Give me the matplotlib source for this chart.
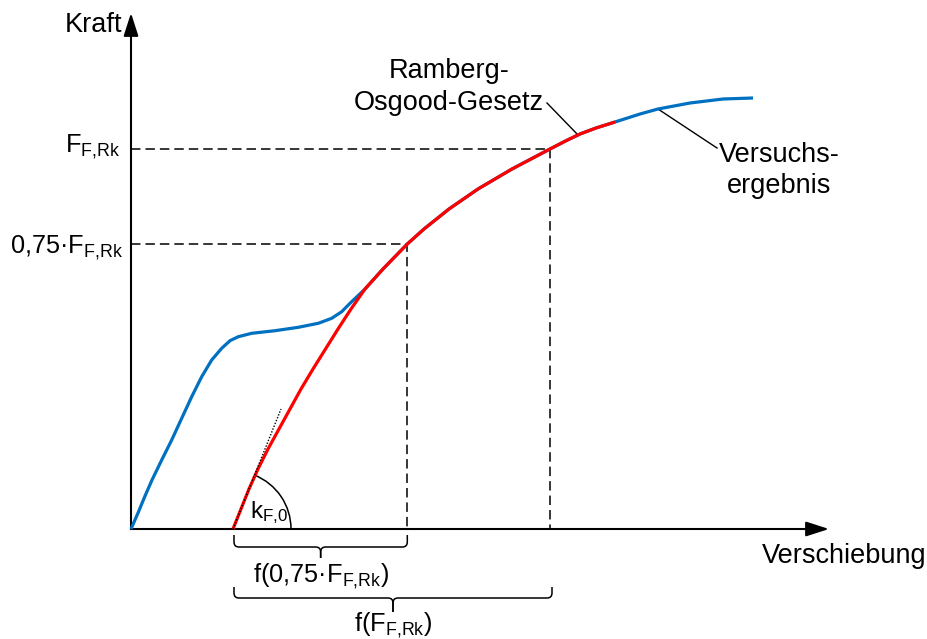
import numpy as np
import matplotlib
matplotlib.use('Agg')
import matplotlib.pyplot as plt
from matplotlib.patches import Arc, PathPatch
from matplotlib.path import Path

plt.rcParams['font.family'] = ['Liberation Sans', 'DejaVu Sans']
plt.rcParams['mathtext.fontset'] = 'custom'
plt.rcParams['mathtext.rm'] = 'Liberation Sans'
plt.rcParams['mathtext.default'] = 'regular'
plt.rcParams['lines.scale_dashes'] = False

# test curve (displacement, force) in drawing units
test_disp = [0, 7, 14, 21, 30.7, 40.7, 50.7, 60.7, 70.7, 80.7, 90.7, 99,
             107.3, 120.7, 144, 167.3, 187.3, 200.7, 210.7, 219,
             234, 252, 276.3, 293, 318, 347, 381, 419, 434.5, 449, 465, 484,
             509, 527, 559, 592, 622]
test_force = [0, 16, 33, 49, 69, 89, 110.7, 132.3, 152.3, 169, 180.7, 188.3,
              192.3, 195.7, 198.3, 201.7, 205.7, 210.7, 217.3, 225.7,
              240, 260, 285, 300, 320, 340, 360, 380, 388, 395, 401, 407,
              415, 420, 426, 430, 431]

# Ramberg-Osgood fit
ro_force = [0, 20, 40, 60, 80, 100, 120, 140, 160, 180, 200, 220, 240, 260,
            285, 300, 320, 340, 360, 380, 388, 395, 401, 407]
ro_disp = [102, 110, 118, 127, 137, 148, 159, 170, 182, 194.5, 207, 220, 234, 252,
           276.3, 293, 318, 347, 381, 419, 434.5, 449, 465, 484]

F_rk = 380
F_75 = 0.75 * F_rk
k0_slope = 2.5          # initial stiffness of the fit
brace_start = 103

BLUE = '#0070C0'
RED = '#FF0000'
FS = 19.5
FS_SUB = 18.3   # labels carrying a subscript


def brace(ax, x0, x1, y_top, y_bar, y_tip, r=5, lw=1.1):
    xm = 0.5 * (x0 + x1)
    for a, s in ((x0, 1), (x1, -1)):
        verts = [(a, y_top), (a, y_bar + r), (a, y_bar), (a + s * r, y_bar),
                 (xm - s * r, y_bar), (xm, y_bar), (xm, y_bar - r), (xm, y_tip)]
        codes = [Path.MOVETO, Path.LINETO, Path.CURVE3, Path.CURVE3,
                 Path.LINETO, Path.CURVE3, Path.CURVE3, Path.LINETO]
        ax.add_patch(PathPatch(Path(verts, codes), fill=False, lw=lw, color='black'))
    return xm


fig = plt.figure(figsize=(9.28, 6.39), dpi=100)
ax = fig.add_axes([0, 0, 1, 1])
ax.set_xlim(-131, 797)
ax.set_ylim(-110, 529)
ax.axis('off')

# axes with arrow heads
arrow = dict(arrowstyle='-|>,head_length=1.4,head_width=0.45', mutation_scale=10,
             lw=1.5, color='black', shrinkA=0, shrinkB=0)
ax.annotate('', xy=(0, 516), xytext=(0, 0), arrowprops=arrow)
ax.annotate('', xy=(698, 0), xytext=(0, 0), arrowprops=arrow)
ax.text(-9, 497, 'Kraft', fontsize=FS, ha='right', va='baseline')
ax.text(631, -34, 'Verschiebung', fontsize=FS, ha='left', va='baseline')

# reference levels
x_rk = np.interp(F_rk, ro_force, ro_disp)
x_75 = np.interp(F_75, ro_force, ro_disp)
dash = dict(color='black', lw=1.1, dashes=(6.8, 3.6))
ax.plot([0, x_rk, x_rk], [F_rk, F_rk, 0], **dash)
ax.plot([0, x_75, x_75], [F_75, F_75, 0], **dash)
ax.text(-11, F_rk - 3, r'F$_{F{,}Rk}$', fontsize=FS_SUB, ha='right', va='baseline')
ax.text(-8, F_75 - 9, r'0,75·F$_{F{,}Rk}$', fontsize=FS_SUB, ha='right', va='baseline')

# curves
ax.plot(test_disp, test_force, color=BLUE, lw=2.3, solid_capstyle='butt',
        solid_joinstyle='round', zorder=3)
ax.plot(ro_disp, ro_force, color=RED, lw=2.3, solid_capstyle='butt',
        solid_joinstyle='round', zorder=4)

# initial tangent and angle
x0 = ro_disp[0]
ax.plot([x0, x0 + 48], [0, 48 * k0_slope], color='black', lw=1.0,
        linestyle=(0, (1, 1.2)), zorder=5)
ax.add_patch(Arc((x0, 0), 116, 116, theta1=0,
                 theta2=np.degrees(np.arctan(k0_slope)), lw=1.1, color='black'))
ax.text(x0 + 17, 11, r'k$_{F{,}0}$', fontsize=17.5, ha='left', va='baseline')

# leader lines and labels
ax.plot([416, 447], [426, 394], color='black', lw=1.0)
ax.text(318, 451, 'Ramberg-', fontsize=FS, ha='center', va='baseline')
ax.text(318, 419, 'Osgood-Gesetz', fontsize=FS, ha='center', va='baseline')
ax.plot([527, 586], [420, 381], color='black', lw=1.0)
ax.text(648, 367, 'Versuchs-', fontsize=FS, ha='center', va='baseline')
ax.text(648, 336, 'ergebnis', fontsize=FS, ha='center', va='baseline')

# displacement braces
xm1 = brace(ax, brace_start, x_75, -6, -18, -29)
ax.text(xm1, -53, r'f(0,75·F$_{F{,}Rk}$)', fontsize=FS_SUB, ha='center', va='baseline')
xm2 = brace(ax, brace_start, x_rk + 2, -58, -69, -83)
ax.text(xm2, -102, r'f(F$_{F{,}Rk}$)', fontsize=FS_SUB, ha='center', va='baseline')

fig.savefig('out.png', dpi=100, facecolor='white')
